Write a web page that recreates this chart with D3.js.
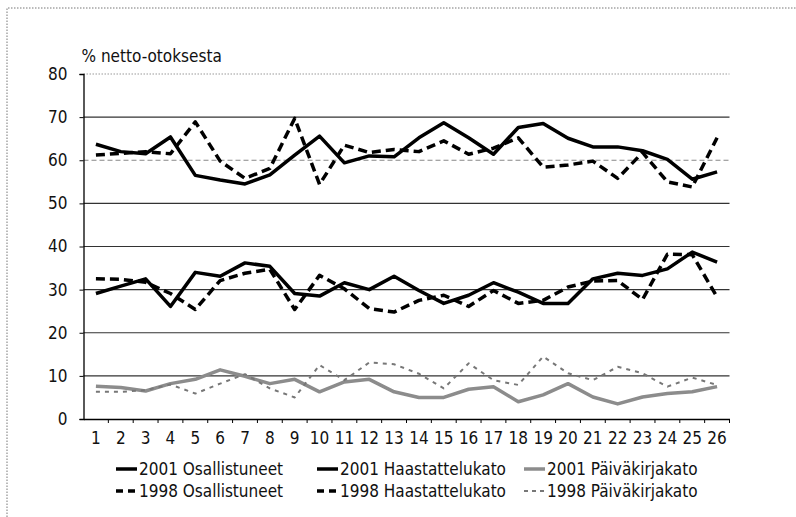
<!DOCTYPE html>
<html>
<head>
<meta charset="utf-8">
<script src="https://cdn.jsdelivr.net/npm/d3@7"></script>
<style>
  body { margin: 0; background: #fff; }
  svg text { font-family: "Liberation Sans Narrow", "DejaVu Sans Condensed", Roboto, sans-serif; fill: #111; }
</style>
</head>
<body>
<div id="chart"></div>
<script>
// --- DATA ---
const categories = d3.range(1, 27);
const yTicks = [0, 10, 20, 30, 40, 50, 60, 70, 80];

const osall2001 = [63.7, 62, 61.5, 65.4, 56.5, 55.4, 54.5, 56.6, 61.2, 65.6, 59.4, 61, 60.8, 65.2, 68.7, 65.2, 61.4, 67.6, 68.5, 65.1, 63.1, 63.1, 62.2, 60.2, 55.6, 57.3];
const osall1998 = [61.2, 61.6, 62, 61.5, 68.9, 59.8, 55.8, 58.1, 69.7, 54.4, 63.5, 61.8, 62.5, 62, 64.5, 61.4, 62.8, 65.2, 58.4, 58.9, 59.8, 55.8, 61.8, 55, 53.8, 65.2];
const haast2001 = [29.1, 30.8, 32.5, 26.1, 34, 33.1, 36.2, 35.4, 29.1, 28.5, 31.6, 30, 33.1, 29.8, 26.8, 28.7, 31.6, 29.4, 26.8, 26.8, 32.5, 33.8, 33.3, 34.8, 38.7, 36.4];
const haast1998 = [32.5, 32.4, 31.7, 29.1, 25.4, 32.1, 33.8, 34.7, 25.4, 33.3, 30.2, 25.6, 24.8, 27.5, 28.7, 26.1, 29.8, 26.8, 27.5, 30.6, 32, 32.1, 27.7, 38.2, 38.1, 28.3];
const paiv2001 = [7.6, 7.3, 6.5, 8.2, 9.2, 11.4, 9.9, 8.2, 9.2, 6.3, 8.6, 9.2, 6.3, 5, 5, 6.9, 7.5, 4, 5.6, 8.2, 5.1, 3.5, 5.1, 5.9, 6.3, 7.5];
const paiv1998 = [6.3, 6.3, 6.7, 8, 5.9, 8.2, 10.4, 7.1, 5, 12.5, 9, 13.1, 12.7, 10.5, 7.1, 12.9, 9, 7.9, 14.5, 10.6, 9, 12.1, 10.6, 7.5, 9.6, 7.9];

// draw order: background grey lines first
const series = [
    { name: "2001 Päiväkirjakato", values: paiv2001, color: "#8c8c8c", width: 3.5, dash: null },
    { name: "1998 Päiväkirjakato", values: paiv1998, color: "#777", width: 2, dash: "4,5" },
    { name: "2001 Haastattelukato", values: haast2001, color: "#000", width: 3.5, dash: null },
    { name: "1998 Haastattelukato", values: haast1998, color: "#000", width: 3.5, dash: "9,5" },
    { name: "2001 Osallistuneet", values: osall2001, color: "#000", width: 3.5, dash: null },
    { name: "1998 Osallistuneet", values: osall1998, color: "#000", width: 3.5, dash: "9,5" }
];
const legendOrder = [
    ["2001 Osallistuneet", "2001 Haastattelukato", "2001 Päiväkirjakato"],
    ["1998 Osallistuneet", "1998 Haastattelukato", "1998 Päiväkirjakato"]
];

const width = 796, height = 517;
const margin = { left: 83.5, right: 66.5, top: 74, bottom: 98 };

const svg = d3.select("#chart").append("svg")
    .attr("width", width)
    .attr("height", height);

// faint scanned border
svg.append("path")
    .attr("d", `M7,${height} V8 H${width}`)
    .attr("fill", "none")
    .attr("stroke", "#777")
    .attr("stroke-width", 1)
    .attr("stroke-dasharray", "1.5,1.5");

const x = d3.scaleBand()
    .domain(categories)
    .range([margin.left, width - margin.right]);

const y = d3.scaleLinear()
    .domain([0, 80])
    .range([height - margin.bottom, margin.top]);

const px = c => x(c) + x.bandwidth() / 2;

// --- GRID ---
svg.append("g")
    .selectAll("line")
    .data(yTicks.filter(t => t > 0))
    .join("line")
    .attr("x1", margin.left)
    .attr("x2", width - margin.right)
    .attr("y1", d => y(d))
    .attr("y2", d => y(d))
    .attr("stroke", d => d === 60 ? "#888" : (d === 80 ? "#999" : "#333"))
    .attr("stroke-width", d => d === 80 ? 1 : 1.2)
    .attr("stroke-dasharray", d => d === 80 ? "1.5,1.5" : (d === 60 ? "5,3" : null));

// --- AXES ---
const yAxis = svg.append("g")
    .attr("transform", `translate(${margin.left},0)`)
    .call(d3.axisLeft(y).tickValues(yTicks).tickSize(4).tickPadding(12));

const xAxis = svg.append("g")
    .attr("transform", `translate(0,${height - margin.bottom})`)
    .call(d3.axisBottom(x).tickSize(0).tickPadding(13));

[yAxis, xAxis].forEach(a => {
    a.select(".domain").attr("stroke", "#000").attr("stroke-width", 1.3);
    a.selectAll(".tick line").attr("stroke", "#000");
    a.selectAll("text").attr("font-size", 17).attr("fill", "#111")
        .style("font-family", '"Liberation Sans Narrow", "DejaVu Sans Condensed", Roboto, sans-serif');
});

// x-axis boundary ticks between categories
svg.append("g")
    .selectAll("line")
    .data(categories)
    .join("line")
    .attr("x1", d => x(d) + x.bandwidth())
    .attr("x2", d => x(d) + x.bandwidth())
    .attr("y1", height - margin.bottom)
    .attr("y2", height - margin.bottom + 4)
    .attr("stroke", "#000");

// axis title
svg.append("text")
    .attr("x", margin.left - 2)
    .attr("y", 62)
    .attr("font-size", 17)
    .text("% netto-otoksesta");

// --- LINES ---
const line = d3.line()
    .x((d, i) => px(categories[i]))
    .y(d => y(d));

svg.append("g")
    .selectAll("path")
    .data(series)
    .join("path")
    .attr("d", d => line(d.values))
    .attr("fill", "none")
    .attr("stroke", d => d.color)
    .attr("stroke-width", d => d.width)
    .attr("stroke-dasharray", d => d.dash)
    .attr("stroke-linejoin", "round");

// --- LEGEND ---
const colX = [116, 317, 524];
const rowY = [469, 491];
const byName = new Map(series.map(s => [s.name, s]));

legendOrder.forEach((row, r) => {
    row.forEach((name, c) => {
        const s = byName.get(name);
        const g = svg.append("g").attr("transform", `translate(${colX[c]},${rowY[r]})`);
        g.append("line")
            .attr("x1", 0).attr("x2", 21)
            .attr("y1", 0).attr("y2", 0)
            .attr("stroke", s.color)
            .attr("stroke-width", s.width)
            .attr("stroke-dasharray", s.dash ? (s.width < 3 ? "4,4" : "7,5") : null);
        g.append("text")
            .attr("x", 23)
            .attr("y", 6)
            .attr("font-size", 17)
            .text(name);
    });
});
</script>
</body>
</html>
